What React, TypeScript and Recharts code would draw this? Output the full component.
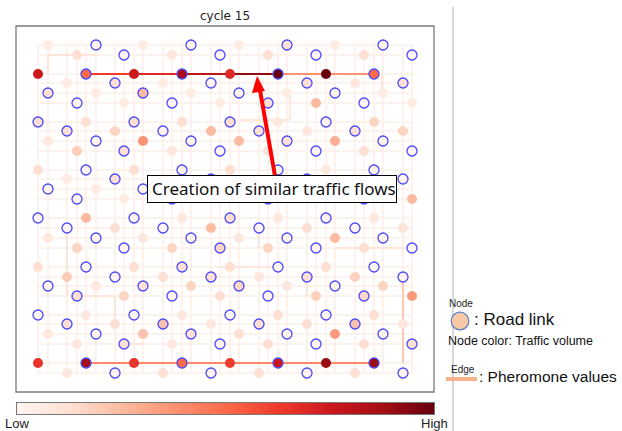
import React from "react";
import { ScatterChart, Scatter, XAxis, YAxis, ReferenceLine, ReferenceArea } from "recharts";

// node columns for the four row types of the lattice
const colA = [38, 86, 134, 182, 230, 278, 326, 374];
const colB = [67, 115, 163, 211, 259, 307, 355, 403];
const colC = [48, 96, 143, 191, 239, 287, 335, 383];
const colD = [77, 124, 172, 220, 268, 316, 364, 412];

const rowY = [45, 55, 74, 83, 93, 103, 122, 131, 141, 151, 170, 179, 189, 199, 218, 228, 238, 248, 267, 277, 286, 296, 315, 324, 334, 344, 363, 373];
const rowType = ["C", "D", "A", "B", "C", "D", "A", "B", "C", "D", "A", "B", "C", "D", "A", "B", "C", "D", "A", "B", "C", "D", "A", "B", "C", "D", "A", "B"];

// 1 = node drawn with a blue ring
const ringMask = [
  "01010101", "01010101", "01010101", "01010101",
  "10101010", "10101010", "10101010", "10101010",
  "01010101", "01010101", "01010101", "01010101",
  "10101010", "10101010", "10101010", "10101010",
  "01010101", "01010101", "01010101", "01010101",
  "10101010", "10101010", "10101010", "10101010",
  "01010101", "01010101", "01010101", "01010101",
];

// traffic volume, 0 (low) .. 8 (high)
const volume = [
  [0.5, 0, 0.5, 0, 0.5, 1, 0.5, 0],
  [1, 0, 0.6, 0, 1, 0, 1, 0],
  [6, 4, 6, 7, 5.5, 8, 8, 4],
  [0.5, 1, 0.5, 0, 0.5, 1, 0.6, 1],
  [1, 0.5, 2, 0.5, 0, 0.5, 0, 0.5],
  [0, 0.5, 0, 0.5, 1, 2, 0, 0.5],
  [1, 1, 1, 1, 1, 0.6, 0, 1.3],
  [1, 1.3, 0, 2, 1, 0.6, 1, 1.3],
  [0.6, 0, 3, 0, 2, 1, 2.3, 0],
  [1.5, 1, 0.6, 0, 0.8, 0, 1, 0],
  [1, 0, 1, 0, 1, 0, 0.6, 0],
  [0.5, 1, 0.5, 0, 0.5, 0, 0.5, 0],
  [0, 0.5, 0, 0.5, 0, 0.5, 0, 0.5],
  [0, 0.5, 0, 0.5, 0, 0.5, 0, 2],
  [0, 2, 0, 0.6, 1, 0.6, 0, 0.6],
  [0, 1, 0, 2, 0, 1, 0, 0.8],
  [0.6, 0, 0.6, 0, 0.6, 0, 2, 0],
  [1.3, 0, 1.3, 1.3, 1.3, 0, 1, 0],
  [1, 0, 1, 1, 1, 0, 1, 0],
  [1.6, 0, 1, 1, 0.6, 1, 1.4, 0],
  [0, 0.6, 1, 1.3, 1.3, 0.6, 0, 1.3],
  [1, 1.3, 0, 1, 0, 1.4, 1.2, 2.8],
  [0, 0.6, 0, 0.6, 0, 1, 0, 1],
  [1, 1, 1.8, 0.6, 1, 1, 1.8, 0.6],
  [0.6, 0, 1.8, 1, 1, 0, 2.8, 0],
  [0.6, 1, 0.6, 0, 1, 0, 1, 1],
  [5.2, 7, 5.2, 4, 5, 6, 7.2, 7.2],
  [0.6, 0, 1, 0, 1, 0, 1, 0],
];

// strong pheromone routes (top and bottom rows)
const topRouteX = [86, 134, 182, 230, 278, 326, 374];
const topRouteY = 74;
const topRouteLevel = [5, 5.5, 6.3, 7.3, 3, 3];
const bottomRouteX = [86, 134, 182, 230, 278, 326, 374];
const bottomRouteY = 363;
const bottomRouteLevel = [3.2, 3.2, 3.2, 3.2, 3.2, 3.2];

// weaker pheromone edges [x1, y1, x2, y2, level]
const weakEdges: number[][] = [
  [403, 277, 403, 363, 2],
  [48, 55, 48, 74, 1],
  [48, 55, 96, 55, 1],
  [67, 228, 67, 296, 1],
  [77, 296, 115, 296, 1],
  [115, 296, 115, 324, 1],
  [220, 267, 278, 267, 1],
  [240, 120, 290, 120, 1],
  [290, 93, 290, 120, 1],
  [382, 74, 382, 97, 1],
  [124, 344, 143, 344, 1],
  [259, 228, 259, 248, 1],
  [307, 277, 307, 296, 1],
  [336, 248, 412, 248, 1],
];

const reds = ["#fff5f0", "#fee0d2", "#fcbba1", "#fc9272", "#fb6a4a", "#ef3b2c", "#cb181d", "#a50f15", "#67000d"];

function hexToRgb(h: string) {
  return [1, 3, 5].map((i) => parseInt(h.slice(i, i + 2), 16));
}

function redColor(v: number) {
  const t = Math.max(0, Math.min(8, v));
  const i = Math.min(7, Math.floor(t));
  const f = t - i;
  const a = hexToRgb(reds[i]);
  const b = hexToRgb(reds[i + 1]);
  const c = a.map((x, k) => Math.round(x + (b[k] - x) * f));
  return `rgb(${c[0]},${c[1]},${c[2]})`;
}

const columns: Record<string, number[]> = { A: colA, B: colB, C: colC, D: colD };

const nodes = rowY.flatMap((y, r) =>
  columns[rowType[r]].map((x, j) => ({
    x,
    y,
    v: volume[r][j],
    ring: ringMask[r][j] === "1",
  }))
);

const meshX = Array.from(new Set([...colA, ...colB, ...colC, ...colD]));

const NodeShape = (props: any) => {
  const { cx, cy, payload } = props;
  return (
    <circle
      cx={cx}
      cy={cy}
      r={5}
      fill={redColor(payload.v)}
      stroke={payload.ring ? "#4a4aff" : "none"}
      strokeWidth={1.3}
    />
  );
};

export default function App() {
  const font = "'Liberation Sans', Arial, sans-serif";
  return (
    <div style={{ position: "absolute", left: 0, top: 0, width: 622, height: 431, background: "#fff", overflow: "hidden" }}>
      {/* title */}
      <div style={{ position: "absolute", left: 16, width: 418, top: 9, textAlign: "center", fontFamily: "'DejaVu Sans', sans-serif", fontSize: 12, color: "#222" }}>
        cycle 15
      </div>

      <ScatterChart width={622} height={431} margin={{ top: 26, left: 16, right: 188, bottom: 39 }} style={{ position: "absolute", left: 0, top: 0 }}>
        <XAxis type="number" dataKey="x" domain={[16, 434]} hide allowDataOverflow />
        <YAxis type="number" dataKey="y" domain={[26, 392]} reversed hide allowDataOverflow />

        {rowY.map((y, i) => (
          <ReferenceLine key={`mh${i}`} segment={[{ x: 38, y }, { x: 412, y }]} stroke="#fdefe9" strokeWidth={1.6} />
        ))}
        {meshX.map((x, i) => (
          <ReferenceLine key={`mv${i}`} segment={[{ x, y: 45 }, { x, y: 373 }]} stroke="#fdefe9" strokeWidth={1.6} />
        ))}
        {weakEdges.map((e, i) => (
          <ReferenceLine key={`we${i}`} segment={[{ x: e[0], y: e[1] }, { x: e[2], y: e[3] }]} stroke={redColor(e[4])} strokeWidth={1.5} />
        ))}
        {topRouteLevel.map((lv, i) => (
          <ReferenceLine key={`tr${i}`} segment={[{ x: topRouteX[i], y: topRouteY }, { x: topRouteX[i + 1], y: topRouteY }]} stroke={redColor(lv)} strokeWidth={2} />
        ))}
        {bottomRouteLevel.map((lv, i) => (
          <ReferenceLine key={`br${i}`} segment={[{ x: bottomRouteX[i], y: bottomRouteY }, { x: bottomRouteX[i + 1], y: bottomRouteY }]} stroke={redColor(lv)} strokeWidth={1.8} />
        ))}

        <Scatter data={nodes} shape={NodeShape} isAnimationActive={false} />

        <ReferenceArea x1={16} x2={434} y1={26} y2={392} fill="none" stroke="#7a7a7a" strokeWidth={1.3} ifOverflow="visible" />
      </ScatterChart>

      {/* annotation */}
      <svg width={622} height={431} style={{ position: "absolute", left: 0, top: 0, pointerEvents: "none" }}>
        <line x1={275} y1={176} x2={260} y2={90} stroke="#ff0000" strokeWidth={4} />
        <polygon points="257,76 252,93 265,91" fill="#ff0000" />
      </svg>
      <div
        style={{
          position: "absolute", left: 147, top: 175, width: 244, height: 26, border: "1px solid #000", background: "#fff",
          fontFamily: "'Noto Sans', sans-serif", fontSize: 17, lineHeight: "26px", paddingLeft: 4, boxSizing: "content-box", color: "#111",
          whiteSpace: "nowrap",
        }}
      >
        Creation of similar traffic flows
      </div>

      {/* colour bar */}
      <div style={{ position: "absolute", left: 16, top: 402, width: 417, height: 11, border: "1px solid #777", background: `linear-gradient(to right, ${reds.join(", ")})` }} />
      <div style={{ position: "absolute", left: 5, top: 416, fontFamily: font, fontSize: 13, color: "#222" }}>Low</div>
      <div style={{ position: "absolute", left: 421, top: 416, fontFamily: font, fontSize: 13, color: "#222" }}>High</div>

      {/* separator */}
      <div style={{ position: "absolute", left: 452, top: 7, width: 2, height: 424, background: "#d8d8d8" }} />

      {/* legend */}
      <div style={{ position: "absolute", left: 449, top: 298, fontFamily: font, fontSize: 10, color: "#222" }}>Node</div>
      <svg width={24} height={24} style={{ position: "absolute", left: 448, top: 309 }}>
        <circle cx={12} cy={12} r={8.8} fill="#f8c9a6" stroke="#5b7fc4" strokeWidth={1.2} />
      </svg>
      <div style={{ position: "absolute", left: 474, top: 310, fontFamily: font, fontSize: 17, color: "#111" }}>: Road link</div>
      <div style={{ position: "absolute", left: 448, top: 334, fontFamily: font, fontSize: 12.5, color: "#111", whiteSpace: "nowrap" }}>Node color: Traffic volume</div>
      <div style={{ position: "absolute", left: 451, top: 364, fontFamily: font, fontSize: 10, color: "#222" }}>Edge</div>
      <div style={{ position: "absolute", left: 446, top: 377, width: 31, height: 4, background: "#f6b28a" }} />
      <div style={{ position: "absolute", left: 479, top: 368, fontFamily: font, fontSize: 15.5, color: "#111", whiteSpace: "nowrap" }}>: Pheromone values</div>
    </div>
  );
}
